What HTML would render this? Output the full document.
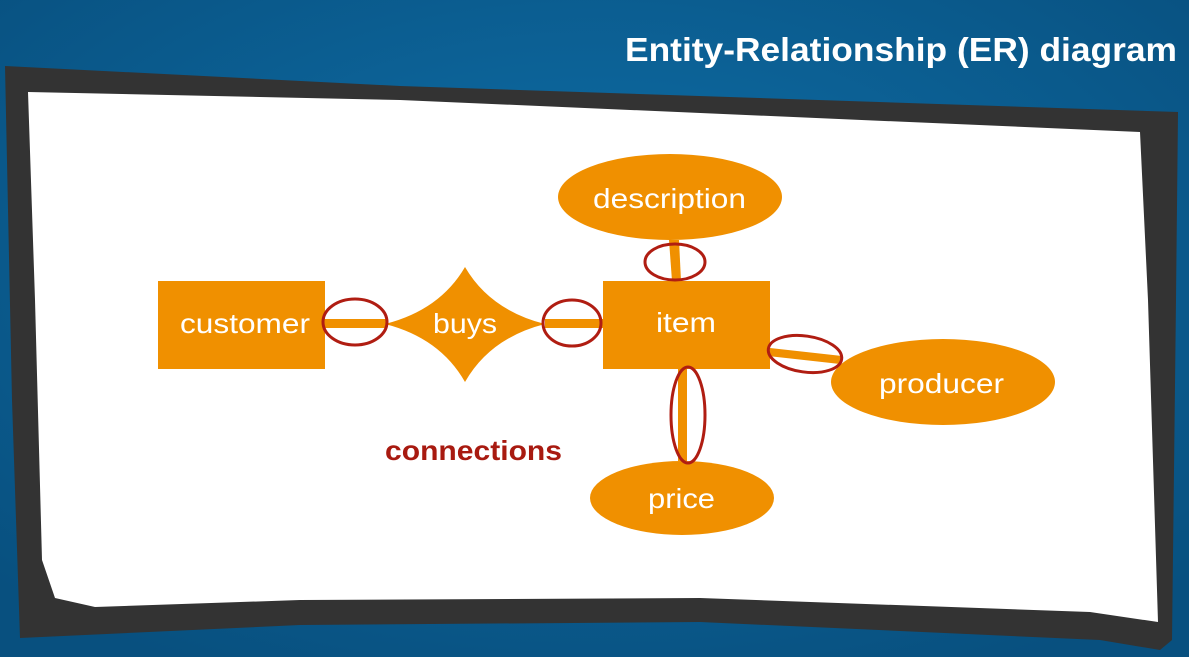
<!DOCTYPE html>
<html><head><style>
body{margin:0;width:1189px;height:657px;overflow:hidden;background:#0a5d92;}
svg{display:block}
text{font-family:"Liberation Sans","DejaVu Sans",sans-serif;}
</style></head><body>
<svg width="1189" height="657" viewBox="0 0 1189 657">
<defs><radialGradient id="bg" cx="50%" cy="40%" r="70%"><stop offset="0" stop-color="#0f6fa8"/><stop offset="1" stop-color="#08507f"/></radialGradient></defs>
<rect width="1189" height="657" fill="url(#bg)"/>
<text x="625" y="61" fill="#fff" font-size="33" font-weight="bold" textLength="552" lengthAdjust="spacingAndGlyphs">Entity-Relationship (ER) diagram</text>
<path d="M5,66 L400,86 L1178,112 L1176,300 L1172,640 L1160,650 L1100,640 L700,622 L300,625 L20,638 L12,400 Z" fill="#333"/>
<path d="M28,92 L400,100 L1140,132 L1148,300 L1158,622 L1090,612 L700,598 L300,600 L95,607 L55,598 L42,560 L35,300 Z" fill="#fff"/>
<g fill="#f09000">
<rect x="158" y="281" width="167" height="88"/>
<rect x="603" y="281" width="167" height="88"/>
<path d="M385,324 Q440,310 465,267 Q490,310 545,324 Q490,338 465,382 Q440,338 385,324 Z"/>
<ellipse cx="670" cy="197" rx="112" ry="43"/>
<ellipse cx="943" cy="382" rx="112" ry="43"/>
<ellipse cx="682" cy="498" rx="92" ry="37"/>
<rect x="325" y="319" width="62" height="9"/>
<rect x="545" y="319" width="58" height="9"/>
<path d="M669,240 L679,240 L681,281 L672,281 Z"/>
<path d="M770,348 L842,356 L840,364 L768,356 Z"/>
<rect x="678" y="369" width="9" height="92"/>
</g>
<g fill="none" stroke="#b01d12" stroke-width="3">
<ellipse cx="355" cy="322" rx="32" ry="23"/>
<ellipse cx="572" cy="323" rx="29" ry="23"/>
<ellipse cx="675" cy="262" rx="30" ry="18"/>
<ellipse cx="805" cy="354" rx="37" ry="18" transform="rotate(8 805 354)"/>
<ellipse cx="688" cy="415" rx="17" ry="48"/>
</g>
<g fill="#fff" font-size="28" lengthAdjust="spacingAndGlyphs">
<text x="180" y="333" textLength="130" lengthAdjust="spacingAndGlyphs">customer</text>
<text x="433" y="333" textLength="64" lengthAdjust="spacingAndGlyphs">buys</text>
<text x="656" y="332" textLength="60" lengthAdjust="spacingAndGlyphs">item</text>
<text x="593" y="208" textLength="153" lengthAdjust="spacingAndGlyphs">description</text>
<text x="879" y="393" textLength="125" lengthAdjust="spacingAndGlyphs">producer</text>
<text x="648" y="508" textLength="67" lengthAdjust="spacingAndGlyphs">price</text>
</g>
<text x="385" y="460" fill="#a81a10" font-size="28" font-weight="bold" textLength="177" lengthAdjust="spacingAndGlyphs">connections</text>
</svg>
</body></html>
